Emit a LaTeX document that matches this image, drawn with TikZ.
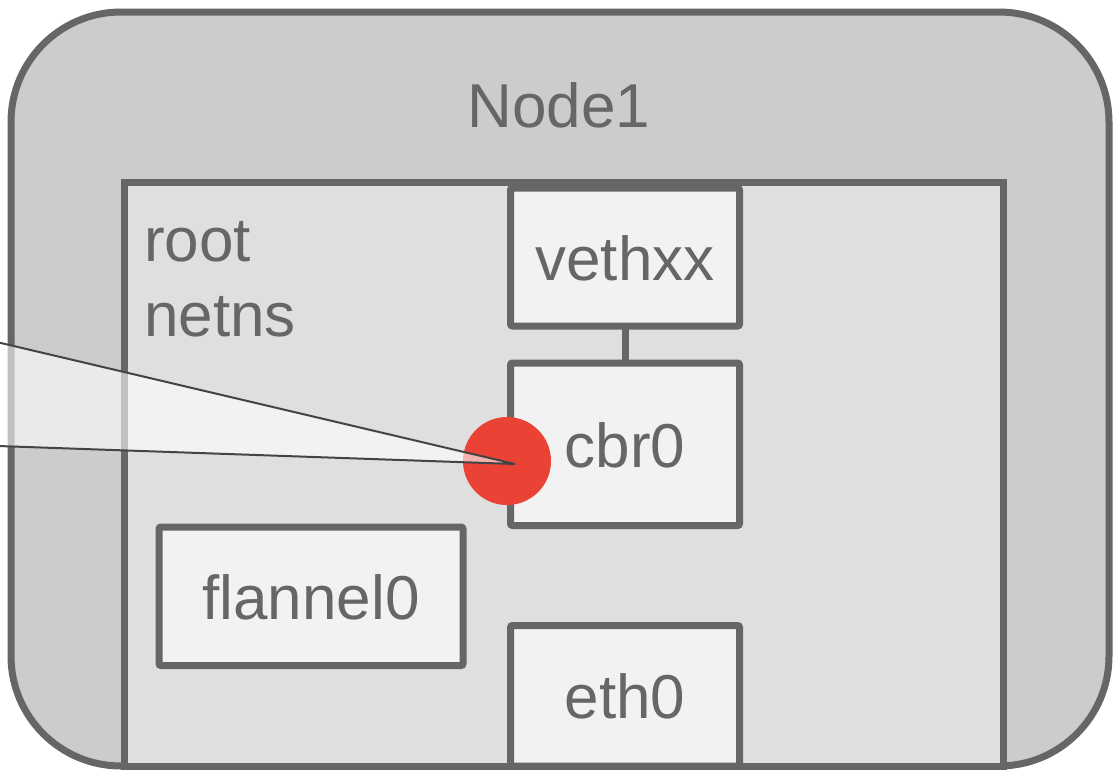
\documentclass[tikz,border=0pt]{standalone}
\usepackage{fontspec}
\setmainfont{Liberation Sans}
\definecolor{edge}{HTML}{666666}
\definecolor{hostfill}{HTML}{CCCCCC}
\definecolor{nsfill}{HTML}{DFDFDF}
\definecolor{devfill}{HTML}{F2F2F2}
\definecolor{portred}{HTML}{EA4335}
\definecolor{leader}{HTML}{444444}
\tikzset{
  hostbox/.style={draw=edge, fill=hostfill, line width=7, rounded corners=110,
    inner sep=0, outer sep=0},
  nsbox/.style={draw=edge, fill=nsfill, line width=7, inner sep=0, outer sep=0},
  devbox/.style={draw=edge, fill=devfill, line width=7, rounded corners=2,
    inner sep=0, outer sep=0, text=edge, text height=46, text depth=0,
    font=\fontsize{62}{74}\selectfont},
  label text/.style={text=edge, inner sep=0, font=\fontsize{62}{74}\selectfont},
  link/.style={draw=edge, line width=7},
  port/.style={circle, fill=portred, minimum size=88, inner sep=0},
  callout/.style={fill=white, fill opacity=0.6},
  calloutline/.style={draw=leader, line width=2},
}
\begin{document}
\begin{tikzpicture}[x=1pt, y=-1pt]
  \useasboundingbox (0,0) rectangle (1113,769);
  % host and root network namespace
  \node[hostbox, minimum width=1098, minimum height=754] (host) at (560,389) {};
  \node[label text, anchor=base] (hostname) at (559,127.3) {Node1};
  \node[nsbox, minimum width=878.5, minimum height=583.5] (rootns) at (563.75,474.25) {};
  \node[label text, anchor=base west] (nsname1) at (144,261.7) {root};
  \node[label text, anchor=base west] (nsname2) at (144,336.7) {netns};
  % devices
  \node[devbox, minimum width=229, minimum height=138] (veth) at (625,257) {vethxx};
  \node[devbox, minimum width=229, minimum height=162.5] (cbr) at (625,444.25) {cbr0};
  \node[devbox, minimum width=304, minimum height=138.5] (flannel) at (311,596.25) {flannel0};
  \node[devbox, minimum width=229, minimum height=140.5] (eth) at (625,695.75) {eth0};
  \draw[link] (veth.south) -- (cbr.north);
  % bridge port and callout wedge
  \node[port] (cbrport) at (507,461) {};
  \coordinate (tip) at (515,464);
  \coordinate (wtop) at (-2,342.3);
  \coordinate (wbot) at (-2,446);
  \fill[callout] (wtop) -- (tip) -- (wbot) -- cycle;
  \draw[calloutline] (wtop) -- (tip) -- (wbot);
\end{tikzpicture}
\end{document}
